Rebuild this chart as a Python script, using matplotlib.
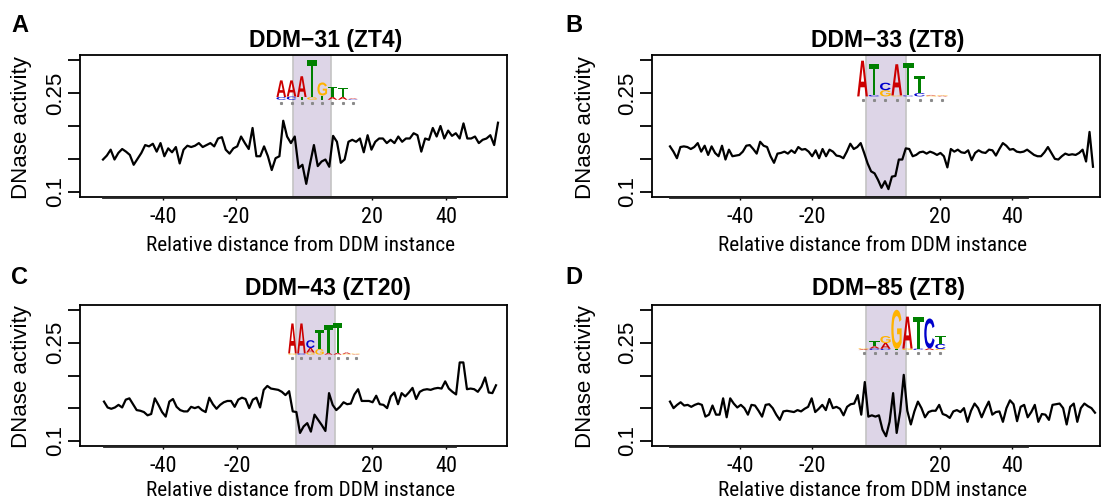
import numpy as np
import matplotlib.pyplot as plt
from matplotlib import font_manager
from matplotlib.textpath import TextPath
from matplotlib.patches import PathPatch
from matplotlib.font_manager import FontProperties
from matplotlib.transforms import Affine2D

# DNase activity around each motif instance
dnase_a = [.149, .155, .164, .149, .159, .165, .161, .156, .141, .150,
           .159, .171, .169, .173, .161, .174, .154, .166, .160, .168,
           .143, .164, .170, .168, .170, .174, .168, .171, .174, .169,
           .181, .183, .164, .158, .166, .169, .184, .174, .165, .197,
           .154, .154, .169, .154, .133, .151, .154, .208, .184, .174,
           .184, .136, .141, .112, .143, .171, .139, .146, .149, .138,
           .185, .176, .144, .149, .176, .179, .176, .181, .160, .186,
           .164, .176, .181, .181, .174, .179, .174, .184, .176, .181,
           .181, .189, .186, .161, .181, .179, .197, .184, .200, .181,
           .193, .185, .189, .181, .204, .181, .181, .184, .174, .179,
           .181, .186, .171, .205]

dnase_b = [.169, .161, .151, .168, .169, .168, .165, .168, .174, .161,
           .170, .156, .169, .159, .154, .170, .149, .164, .154, .155,
           .156, .161, .170, .171, .165, .158, .176, .170, .168, .154,
           .144, .158, .159, .161, .158, .163, .159, .168, .164, .165,
           .161, .154, .163, .151, .165, .154, .164, .161, .155, .154,
           .151, .161, .173, .165, .168, .174, .159, .143, .131, .128,
           .118, .106, .116, .104, .123, .124, .149, .149, .166, .165,
           .154, .156, .160, .161, .158, .161, .159, .156, .159, .154,
           .137, .165, .161, .164, .160, .159, .163, .148, .159, .163,
           .160, .159, .164, .163, .155, .165, .174, .170, .164, .165,
           .161, .160, .161, .164, .160, .156, .154, .154, .160, .168,
           .159, .150, .149, .154, .158, .156, .157, .156, .159, .164,
           .146, .191, .138]

dnase_c = [.160, .151, .149, .151, .155, .151, .163, .165, .156, .147,
           .146, .144, .139, .141, .165, .155, .144, .137, .160, .164,
           .152, .147, .145, .145, .152, .150, .152, .147, .144, .166,
           .156, .149, .155, .159, .161, .161, .152, .163, .166, .164,
           .150, .163, .166, .151, .178, .184, .180, .179, .178, .175,
           .170, .176, .145, .144, .112, .122, .127, .114, .140, .132,
           .124, .115, .173, .155, .147, .152, .159, .156, .157, .171,
           .179, .161, .161, .161, .159, .169, .156, .155, .150, .168,
           .174, .156, .173, .168, .174, .181, .164, .175, .178, .179,
           .178, .180, .181, .180, .191, .180, .175, .171, .220, .220,
           .179, .180, .179, .175, .183, .197, .174, .173, .185]

dnase_d = [.160, .150, .155, .159, .154, .155, .152, .155, .157, .155,
           .137, .140, .154, .140, .140, .165, .136, .165, .157, .151,
           .155, .150, .140, .155, .154, .146, .137, .155, .156, .150,
           .140, .132, .145, .146, .145, .144, .147, .145, .149, .152,
           .165, .144, .149, .155, .147, .164, .150, .152, .149, .139,
           .152, .156, .157, .170, .140, .190, .137, .139, .137,
           .139, .117, .107, .129, .173, .112, .145, .201, .146, .125,
           .145, .160, .150, .136, .144, .146, .146, .155, .141, .139,
           .135, .145, .147, .144, .150, .129, .146, .157, .150, .136,
           .149, .160, .140, .144, .145, .129, .150, .162, .156, .130,
           .152, .155, .136, .144, .155, .129, .141, .140, .132, .155,
           .156, .157, .150, .125, .152, .157, .129, .150, .157, .153,
           .150, .143]

titles = ['DDM\u221231 (ZT4)', 'DDM\u221233 (ZT8)', 'DDM\u221243 (ZT20)', 'DDM\u221285 (ZT8)']
panel_labels = ['A', 'B', 'C', 'D']
x_tick_labels = ['-40', '-20', '20', '40']
y_ticks = [0.1, 0.15, 0.2, 0.25, 0.3]
y_tick_labels = ['0.1', '', '', '0.25', '']

# motif instance span and label spots, in relative distance
shade_spans = [(-2.3, 9.2), (-4.4, 7.0), (-1.2, 10.7), (-4.7, 6.6)]
tick_spots = [[-41.8, -19.6, 21.7, 44.2], [-40.1, -19.7, 16.6, 37.0],
              [-41.9, -19.3, 22.0, 44.7], [-40.2, -19.9, 16.2, 36.6]]

# motif logos: letters bottom -> top and their heights in bits, per column
logo_a_cols = ['CA', 'CA', 'TA', 'GT', 'TG', 'AT', 'AT', 'CA']
logo_a_bits = [[.13, .8], [.15, .78], [.13, 1.0], [.12, 1.78], [.2, .63], [.13, .5], [.13, .45], [.03, .03]]
logo_b_cols = ['A', 'CT', 'GC', 'GA', 'CT', 'CT', 'GA', 'AG']
logo_b_bits = [[1.72], [.07, 1.48], [.3, .36], [.05, 1.5], [.05, 1.58], [.16, .8], [.04, .03], [.03, .03]]
logo_c_cols = ['GA', 'CA', 'GAC', 'GT', 'AT', 'AT', 'GA', 'AG']
logo_c_bits = [[.06, 1.45], [.06, 1.45], [.1, .22, .38], [.27, .9], [.08, 1.35], [.08, 1.46], [.04, .06], [.02, .03]]
logo_d_cols = ['AG', 'CAT', 'CAG', 'TG', 'GA', 'CT', 'AC', 'GCT']
logo_d_bits = [[.04, .04], [.08, .1, .25], [.06, .28, .34], [.05, 1.9], [.07, 1.55], [.07, 1.55], [.08, 1.45], [.05, .25, .38]]
logo_spans = [(-7.4, 17.5), (-7.0, 18.9), (-3.7, 18.4), (-6.9, 17.9)]
logo_bases = [0.240, 0.245, 0.232, 0.239]

base_colors = {'A': '#cc0000', 'C': '#0000cc', 'G': '#ffb300', 'T': '#008000'}

# layout in pixels: box (left, top, right, bottom) and where the trace starts / ends
layout = [
    dict(box=(80, 55, 507, 197), line=(103, 498), title=(326, 40), ylab=(22, 128), xlab=(301, 251), tag=(20, 25)),
    dict(box=(652, 55, 1100, 197), line=(670, 1093), title=(888, 40), ylab=(585, 128), xlab=(872, 251), tag=(574, 25)),
    dict(box=(80, 305, 507, 446), line=(104, 496), title=(328, 289), ylab=(22, 377), xlab=(301, 496), tag=(19, 278)),
    dict(box=(652, 305, 1100, 446), line=(670, 1095), title=(889, 289), ylab=(585, 377), xlab=(872, 496), tag=(574, 278)),
]
axis_ends = [47.0, 41.3, 47.5, 40.8]

series = [dnase_a, dnase_b, dnase_c, dnase_d]
logos = [(logo_a_cols, logo_a_bits), (logo_b_cols, logo_b_bits),
         (logo_c_cols, logo_c_bits), (logo_d_cols, logo_d_bits)]

# a narrow face for the x axis texts when one is installed
x_prop, x_size, xl_size = FontProperties(family='Lato'), 15, 14.5
for fam, stretch, tsize, lsize in [('Liberation Sans Narrow', 'normal', 16.5, 16),
                                   ('Roboto Condensed', 'normal', 16, 15.3),
                                   ('Noto Sans', 'condensed', 15.5, 15),
                                   ('Open Sans', 'condensed', 15.5, 15)]:
    fp = FontProperties(family=fam, stretch=stretch)
    try:
        path = font_manager.findfont(fp, fallback_to_default=False)
    except ValueError:
        continue
    if stretch == 'normal' or 'ondensed' in path:
        x_prop, x_size, xl_size = fp, tsize, lsize
        break

W, H = 1107, 499
fig = plt.figure(figsize=(W / 100, H / 100), dpi=100)
logo_font = FontProperties(family='Liberation Sans', weight='bold')
BIT = 0.0316


def draw_letter(ax, ch, x, y, w, h):
    tp = TextPath((0, 0), ch, size=1, prop=logo_font)
    bb = tp.get_extents()
    tr = Affine2D().translate(-bb.x0, -bb.y0).scale(w / bb.width, h / bb.height).translate(x, y)
    ax.add_patch(PathPatch(tr.transform_path(tp), facecolor=base_colors[ch],
                           edgecolor='none', zorder=3))


def draw_logo(ax, cols, bits, x0, x1, base):
    w = (x1 - x0) / len(cols)
    for i, (letters, hs) in enumerate(zip(cols, bits)):
        y = base
        for ch, h in zip(letters, hs):
            draw_letter(ax, ch, x0 + i * w + 0.03 * w, y, 0.94 * w, h * BIT)
            y += h * BIT
    centers = x0 + w * (np.arange(len(cols)) + 0.5)
    ax.plot(centers, np.full(len(cols), base - 0.005), ls='none', marker='s',
            ms=1.2, color='#8a8a8a', zorder=3)


for k in range(4):
    lay = layout[k]
    l, t, r, b = lay['box']
    ls, le = lay['line']
    ax = fig.add_axes([l / W, 1 - b / H, (r - l) / W, (b - t) / H])
    vals = series[k]
    x = np.linspace(-60, 60, len(vals))
    ppu = (le - ls) / 120

    ax.axvspan(*shade_spans[k], facecolor='#ddd5e7', edgecolor='#c4c4c4', lw=1.2, zorder=1)
    draw_logo(ax, *logos[k], *logo_spans[k], logo_bases[k])
    ax.plot(x, vals, color='black', lw=1.6, zorder=4)

    ax.set_xlim(-60 - (ls - l) / ppu, 60 + (r - le) / ppu)
    ax.set_ylim(0.092, 0.308)
    ax.set_yticks(y_ticks)
    ax.set_yticklabels(y_tick_labels, rotation=90, va='center',
                       fontfamily='Liberation Sans', fontsize=16)
    ax.set_xticks(tick_spots[k])
    ax.set_xticklabels(x_tick_labels, fontproperties=x_prop, fontsize=x_size)
    ax.tick_params(axis='y', length=8.6, width=1.3, pad=1.5)
    ax.tick_params(axis='x', length=2.5, width=1.0, pad=5)
    for sp in ax.spines.values():
        sp.set_linewidth(1.3)
    ax.plot([-60, axis_ends[k]], [0.092, 0.092], color='#222222', lw=2.0,
            clip_on=False, zorder=5)

    fig.text(lay['title'][0] / W, 1 - lay['title'][1] / H, titles[k], ha='center', va='center',
             fontsize=16.5, fontweight='bold', fontfamily='Liberation Sans')
    fig.text(lay['ylab'][0] / W, 1 - lay['ylab'][1] / H, 'DNase activity', rotation=90,
             ha='center', va='center', fontsize=16, fontfamily='Liberation Sans')
    fig.text(lay['xlab'][0] / W, 1 - lay['xlab'][1] / H, 'Relative distance from DDM instance',
             ha='center', va='baseline', fontproperties=x_prop, fontsize=xl_size)
    fig.text(lay['tag'][0] / W, 1 - lay['tag'][1] / H, panel_labels[k], ha='center', va='center',
             fontsize=17, fontweight='bold', fontfamily='Liberation Sans')

fig.savefig('out.png', dpi=100)
